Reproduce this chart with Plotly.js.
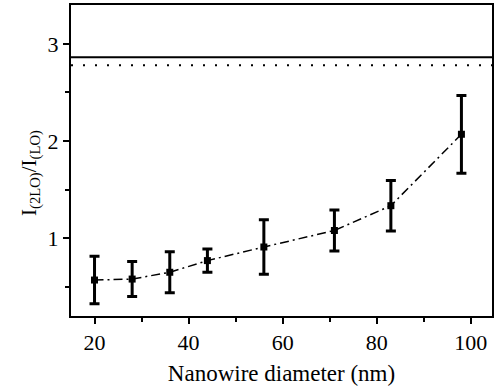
<!DOCTYPE html>
<html>
<head>
<meta charset="utf-8">
<script src="https://cdn.plot.ly/plotly-3.0.1.min.js"></script>
<style>html,body{margin:0;padding:0;background:#fff;}#chart{width:495px;height:390px;}</style>
</head>
<body>
<div id="chart"></div>
<script>
const diameter = [20, 28, 36, 44, 56, 71, 83, 98];
const ratio = [0.57, 0.58, 0.65, 0.77, 0.91, 1.08, 1.335, 2.07];
const ratioErr = [0.245, 0.18, 0.21, 0.12, 0.28, 0.21, 0.26, 0.40];
const solidLevel = 2.863;
const dottedLevel = 2.78;
const xTitle = 'Nanowire diameter (nm)';
const yTitle = 'I<sub>(2LO)</sub>/I<sub>(LO)</sub>';

const fam = 'Liberation Serif, Times New Roman, serif';
const tickFont = {family: fam, color: '#000', size: 22};
const titleFont = {family: fam, color: '#000', size: 23};
const yTitleFont = {family: fam, color: '#000', size: 21};

const trace = {
  x: diameter, y: ratio, type: 'scatter', mode: 'lines+markers',
  line: {color: '#000', width: 1.5, dash: '9px,4px,2px,4px'},
  marker: {symbol: 'square', size: 7, color: '#000'},
  error_y: {type: 'data', array: ratioErr, visible: true, color: '#000', thickness: 3, width: 5},
  hoverinfo: 'none'
};

const layout = {
  width: 495, height: 390,
  margin: {l: 71, r: 3, t: 5, b: 74},
  paper_bgcolor: '#fff', plot_bgcolor: '#fff',
  showlegend: false,
  font: tickFont,
  xaxis: {
    range: [15, 104.5], tickvals: [20, 40, 60, 80, 100], showgrid: false, zeroline: false,
    showline: true, linecolor: '#000', linewidth: 2, mirror: true,
    ticks: 'outside', ticklen: 6, tickwidth: 2, tickcolor: '#000',
    minor: {tickvals: [30, 50, 70, 90], ticks: 'outside', ticklen: 4, tickwidth: 2, tickcolor: '#000'},
    tickfont: tickFont,
    title: {text: xTitle, font: titleFont, standoff: 10}
  },
  yaxis: {
    range: [0.2, 3.4], tickvals: [1, 2, 3], showgrid: false, zeroline: false,
    showline: true, linecolor: '#000', linewidth: 2, mirror: true,
    ticks: 'outside', ticklen: 6, tickwidth: 2, tickcolor: '#000',
    minor: {tickvals: [0.5, 1.5, 2.5], ticks: 'outside', ticklen: 4, tickwidth: 2, tickcolor: '#000'},
    tickfont: tickFont,
    title: {text: ''}
  },
  annotations: [
    {text: yTitle, xref: 'paper', yref: 'paper', x: -0.095, y: 0.46, textangle: -90,
     showarrow: false, font: yTitleFont, xanchor: 'center', yanchor: 'middle'}
  ],
  shapes: [
    {type: 'line', xref: 'paper', x0: 0, x1: 1, yref: 'y', y0: solidLevel, y1: solidLevel,
     line: {color: '#000', width: 2}},
    {type: 'line', xref: 'paper', x0: 0, x1: 1, yref: 'y', y0: dottedLevel, y1: dottedLevel,
     line: {color: '#000', width: 2, dash: '2px,10px'}}
  ]
};

Plotly.newPlot('chart', [trace], layout, {staticPlot: true, displayModeBar: false});
</script>
</body>
</html>
